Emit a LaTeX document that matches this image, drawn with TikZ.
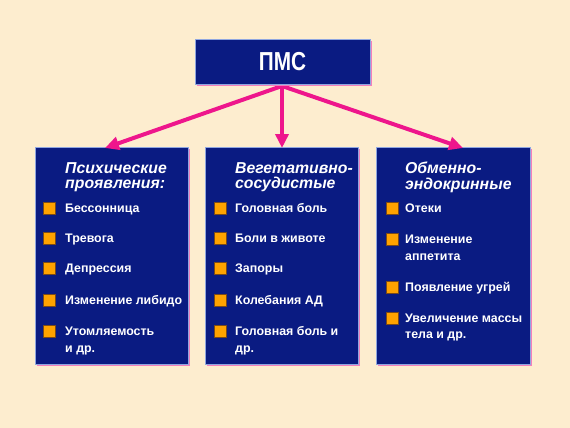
\documentclass[tikz,border=0pt]{standalone}
\usepackage{fontspec}
\setmainfont{Liberation Sans}
\newfontfamily\titlefont[FakeStretch=0.8]{Liberation Sans}
\usetikzlibrary{arrows.meta,shadows}
\definecolor{bgcream}{HTML}{FDEDCF}
\definecolor{boxnavy}{HTML}{0A1B82}
\definecolor{edgeblue}{HTML}{8FA6E0}
\definecolor{shadowpink}{HTML}{F27FBC}
\definecolor{linkpink}{HTML}{EE168C}
\definecolor{bulletorange}{HTML}{FFA200}
\definecolor{bulletedge}{HTML}{7A4A1A}
\tikzset{
  panel/.style={fill=boxnavy, draw=edgeblue, line width=0.6pt, anchor=north west,
    minimum width=153pt, minimum height=217pt, inner sep=0pt,
    drop shadow={shadow xshift=2pt, shadow yshift=-2pt, fill=shadowpink, opacity=1}},
  titlebox/.style={fill=boxnavy, draw=edgeblue, line width=0.6pt,
    minimum width=175pt, minimum height=45pt, inner sep=0pt, text=white,
    font=\titlefont\fontsize{26}{26}\selectfont\bfseries,
    drop shadow={shadow xshift=2pt, shadow yshift=-2pt, fill=shadowpink, opacity=1}},
  head/.style={anchor=north west, inner sep=0pt, align=left, text=white,
    font=\fontsize{15.8}{15.5}\selectfont\bfseries\itshape},
  item/.style={anchor=west, inner sep=0pt, text=white, text height=8.9pt, text depth=0pt,
    font=\fontsize{12.4}{14}\selectfont\bfseries},
  dot/.style={fill=bulletorange, draw=bulletedge, line width=0.5pt,
    minimum size=11.5pt, inner sep=0pt},
  link/.style={draw=linkpink, line width=4pt, -{Triangle[length=14pt,width=13pt]}}
}
\begin{document}
\begin{tikzpicture}[x=1pt,y=-1pt]
  \fill[bgcream] (0,0) rectangle (570,428);
  \useasboundingbox (0,0) rectangle (570,428);

  % panels
  \node[panel] (psych) at (35,147) {};
  \node[panel] (veg) at (205,147) {};
  \node[panel, minimum width=154pt] (endo) at (376,147) {};

  % arrows from the title
  \coordinate (tipA) at (105,148);
  \coordinate (tipC) at (463,148);
  \draw[link] (282,86) coordinate (hub) -- (tipA);
  \draw[link] (hub) -- (282,148) coordinate (tipB);
  \draw[link] (hub) -- (tipC);
  \node[titlebox] (pms) at (282.5,61.5) {ПМС};

  % psychic
  \node[head] (psych-h) at (65,162) {Психические\\проявления:};
  \foreach \y/\t in {208/Бессонница, 238/Тревога, 268/Депрессия,
      300/Изменение либидо, 331/Утомляемость} {
    \node[dot] (psych-b\y) at (49,\y) {};
    \node[item] (psych-t\y) at (65,\y) {\t};
  }
  \node[item] (psych-end) at (65,348) {и др.};

  % vegetative
  \node[head] (veg-h) at (235,162) {Вегетативно-\\сосудистые};
  \foreach \y/\t in {208/Головная боль, 238/Боли в животе, 268/Запоры,
      300/Колебания АД, 331/Головная боль и} {
    \node[dot] (veg-b\y) at (220,\y) {};
    \node[item] (veg-t\y) at (235,\y) {\t};
  }
  \node[item] (veg-end) at (235,348) {др.};

  % metabolic
  \node[head] (endo-h) at (405,162) {Обменно-\\эндокринные};
  \foreach \y/\t in {208/Отеки, 239/Изменение, 287/Появление угрей,
      318/Увеличение массы} {
    \node[dot] (endo-b\y) at (392,\y) {};
    \node[item] (endo-t\y) at (405,\y) {\t};
  }
  \node[item] (endo-c1) at (405,256) {аппетита};
  \node[item] (endo-c2) at (405,334) {тела и др.};
\end{tikzpicture}
\end{document}
